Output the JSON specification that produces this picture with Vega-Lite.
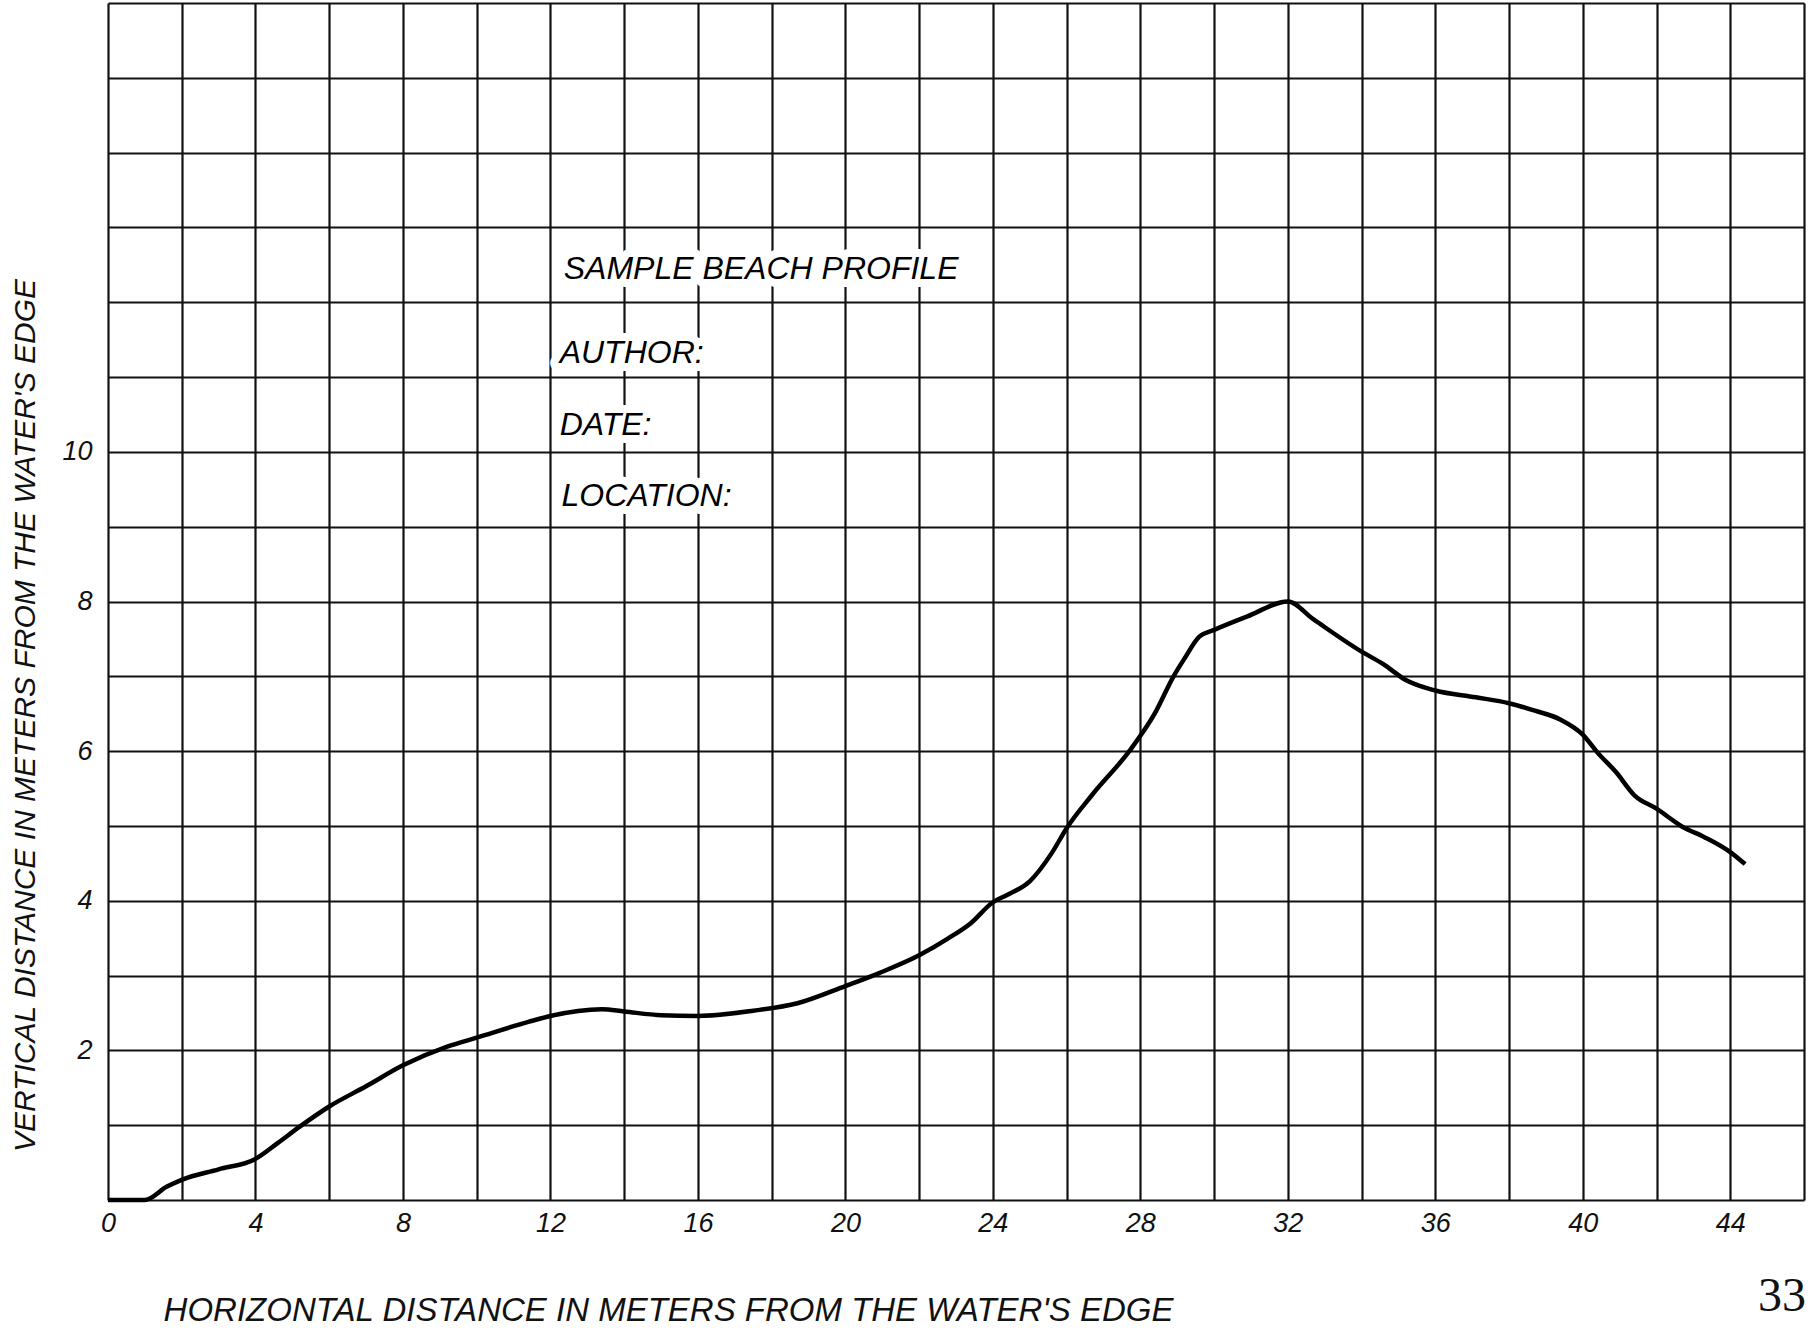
{
  "$schema": "https://vega.github.io/schema/vega-lite/v6.json",
  "autosize": {"type": "none"},
  "width": 1696,
  "height": 1197,
  "padding": {"left": 108, "top": 3, "right": 12, "bottom": 132},
  "background": "white",
  "config": {"view": {"stroke": null}},
  "datasets": {
    "profile": [
      {"x": 0, "y": 0}, {"x": 1.0, "y": 0}, {"x": 1.6, "y": 0.18}, {"x": 2.0, "y": 0.27},
      {"x": 3.0, "y": 0.41}, {"x": 4.0, "y": 0.55}, {"x": 4.6, "y": 0.76}, {"x": 5.2, "y": 0.98},
      {"x": 6.0, "y": 1.25}, {"x": 7.0, "y": 1.52}, {"x": 8.0, "y": 1.8}, {"x": 9.2, "y": 2.05},
      {"x": 10.0, "y": 2.17}, {"x": 11.4, "y": 2.38}, {"x": 12.0, "y": 2.46}, {"x": 13.4, "y": 2.55},
      {"x": 14.0, "y": 2.52}, {"x": 15.0, "y": 2.47}, {"x": 16.0, "y": 2.46}, {"x": 17.5, "y": 2.53},
      {"x": 18.7, "y": 2.63}, {"x": 20.0, "y": 2.86}, {"x": 20.9, "y": 3.03}, {"x": 22.0, "y": 3.27},
      {"x": 22.8, "y": 3.5}, {"x": 23.4, "y": 3.7}, {"x": 24.0, "y": 3.98}, {"x": 24.4, "y": 4.08},
      {"x": 25.0, "y": 4.26}, {"x": 25.6, "y": 4.64}, {"x": 26.0, "y": 4.97}, {"x": 26.7, "y": 5.42},
      {"x": 27.7, "y": 6.0}, {"x": 28.4, "y": 6.51}, {"x": 28.9, "y": 7.0}, {"x": 29.2, "y": 7.24},
      {"x": 29.6, "y": 7.53}, {"x": 30.0, "y": 7.62}, {"x": 30.9, "y": 7.8}, {"x": 32.0, "y": 8.0},
      {"x": 32.7, "y": 7.76}, {"x": 34.0, "y": 7.33}, {"x": 34.6, "y": 7.16}, {"x": 35.2, "y": 6.95},
      {"x": 36.0, "y": 6.81}, {"x": 37.1, "y": 6.72}, {"x": 38.0, "y": 6.64}, {"x": 38.7, "y": 6.54},
      {"x": 39.4, "y": 6.42}, {"x": 40.0, "y": 6.22}, {"x": 40.4, "y": 5.98}, {"x": 40.9, "y": 5.72},
      {"x": 41.4, "y": 5.41}, {"x": 42.0, "y": 5.23}, {"x": 42.7, "y": 4.99}, {"x": 43.3, "y": 4.85},
      {"x": 44.0, "y": 4.65}, {"x": 44.4, "y": 4.49}
    ],
    "notes": [
      {"label": "SAMPLE  BEACH PROFILE", "x": 12.36, "y": 12.45},
      {"label": "AUTHOR:", "x": 12.25, "y": 11.32},
      {"label": "DATE:", "x": 12.25, "y": 10.36},
      {"label": "LOCATION:", "x": 12.3, "y": 9.41}
    ],
    "page": [
      {"label": "33", "x": 44.75, "y": -1.3}
    ]
  },
  "layer": [
    {
      "data": {"name": "profile"},
      "mark": {"type": "line", "color": "#000", "strokeWidth": 4.5, "interpolate": "monotone", "clip": false},
      "encoding": {
        "x": {
          "field": "x", "type": "quantitative",
          "scale": {"domain": [0, 46], "nice": false, "zero": true},
          "axis": {
            "values": [0,2,4,6,8,10,12,14,16,18,20,22,24,26,28,30,32,34,36,38,40,42,44,46],
            "format": "d",
            "grid": true, "gridColor": "#111", "gridWidth": 2.2,
            "domain": false, "ticks": false,
            "labelExpr": "datum.value % 4 == 0 && datum.value < 46 ? datum.label : ''",
            "labelFlush": false, "labelOverlap": false,
            "labelFont": "Liberation Sans", "labelFontStyle": "italic", "labelFontSize": 27,
            "labelColor": "#111", "labelPadding": 10,
            "title": "HORIZONTAL  DISTANCE  IN  METERS  FROM  THE  WATER'S  EDGE",
            "titleFont": "Liberation Sans", "titleFontStyle": "italic", "titleFontWeight": "normal",
            "titleFontSize": 33, "titleColor": "#111",
            "titleX": 560, "titleY": 110, "titleBaseline": "middle", "titleAlign": "center"
          }
        },
        "y": {
          "field": "y", "type": "quantitative",
          "scale": {"domain": [0, 16], "nice": false, "zero": true},
          "axis": {
            "values": [0,1,2,3,4,5,6,7,8,9,10,11,12,13,14,15,16],
            "format": "d",
            "grid": true, "gridColor": "#111", "gridWidth": 2.2,
            "domain": false, "ticks": false,
            "labelExpr": "datum.value % 2 == 0 && datum.value > 0 && datum.value <= 10 ? datum.label : ''",
            "labelFlush": false, "labelOverlap": false,
            "labelFont": "Liberation Sans", "labelFontStyle": "italic", "labelFontSize": 27,
            "labelColor": "#111", "labelPadding": 16,
            "title": "VERTICAL  DISTANCE  IN  METERS  FROM  THE  WATER'S  EDGE",
            "titleFont": "Liberation Sans", "titleFontStyle": "italic", "titleFontWeight": "normal",
            "titleFontSize": 30, "titleColor": "#111",
            "titleX": -83, "titleY": 712, "titleBaseline": "middle", "titleAlign": "center", "titleAngle": -90
          }
        }
      }
    },
    {
      "mark": {"type": "rule", "color": "#000", "strokeWidth": 5},
      "encoding": {
        "x": {"datum": 0, "type": "quantitative"},
        "x2": {"datum": 46},
        "y": {"datum": 0, "type": "quantitative"}
      }
    },
    {
      "mark": {"type": "rule", "color": "#000", "strokeWidth": 6},
      "encoding": {
        "x": {"datum": 0, "type": "quantitative"},
        "y": {"datum": 0, "type": "quantitative"},
        "y2": {"datum": 12}
      }
    },
    {
      "mark": {"type": "rule", "color": "#000", "strokeWidth": 3},
      "encoding": {
        "x": {"datum": 46, "type": "quantitative"},
        "y": {"datum": 0, "type": "quantitative"},
        "y2": {"datum": 16}
      }
    },
    {
      "data": {"name": "notes"},
      "mark": {"type": "text", "align": "left", "baseline": "middle", "font": "Liberation Sans", "fontStyle": "italic", "fontSize": 32, "fill": "white", "stroke": "white", "strokeWidth": 16, "strokeJoin": "round"},
      "encoding": {
        "x": {"field": "x", "type": "quantitative", "title": "HORIZONTAL  DISTANCE  IN  METERS  FROM  THE  WATER'S  EDGE"},
        "y": {"field": "y", "type": "quantitative", "title": "VERTICAL  DISTANCE  IN  METERS  FROM  THE  WATER'S  EDGE"},
        "text": {"field": "label"}
      }
    },
    {
      "data": {"name": "notes"},
      "mark": {"type": "text", "align": "left", "baseline": "middle", "font": "Liberation Sans", "fontStyle": "italic", "fontSize": 32, "color": "#000"},
      "encoding": {
        "x": {"field": "x", "type": "quantitative", "title": "HORIZONTAL  DISTANCE  IN  METERS  FROM  THE  WATER'S  EDGE"},
        "y": {"field": "y", "type": "quantitative", "title": "VERTICAL  DISTANCE  IN  METERS  FROM  THE  WATER'S  EDGE"},
        "text": {"field": "label"}
      }
    },
    {
      "data": {"name": "page"},
      "mark": {"type": "text", "align": "left", "baseline": "middle", "font": "Liberation Serif", "fontSize": 48, "color": "#111", "clip": false},
      "encoding": {
        "x": {"field": "x", "type": "quantitative", "title": "HORIZONTAL  DISTANCE  IN  METERS  FROM  THE  WATER'S  EDGE"},
        "y": {"field": "y", "type": "quantitative", "title": "VERTICAL  DISTANCE  IN  METERS  FROM  THE  WATER'S  EDGE"},
        "text": {"field": "label"}
      }
    }
  ]
}
